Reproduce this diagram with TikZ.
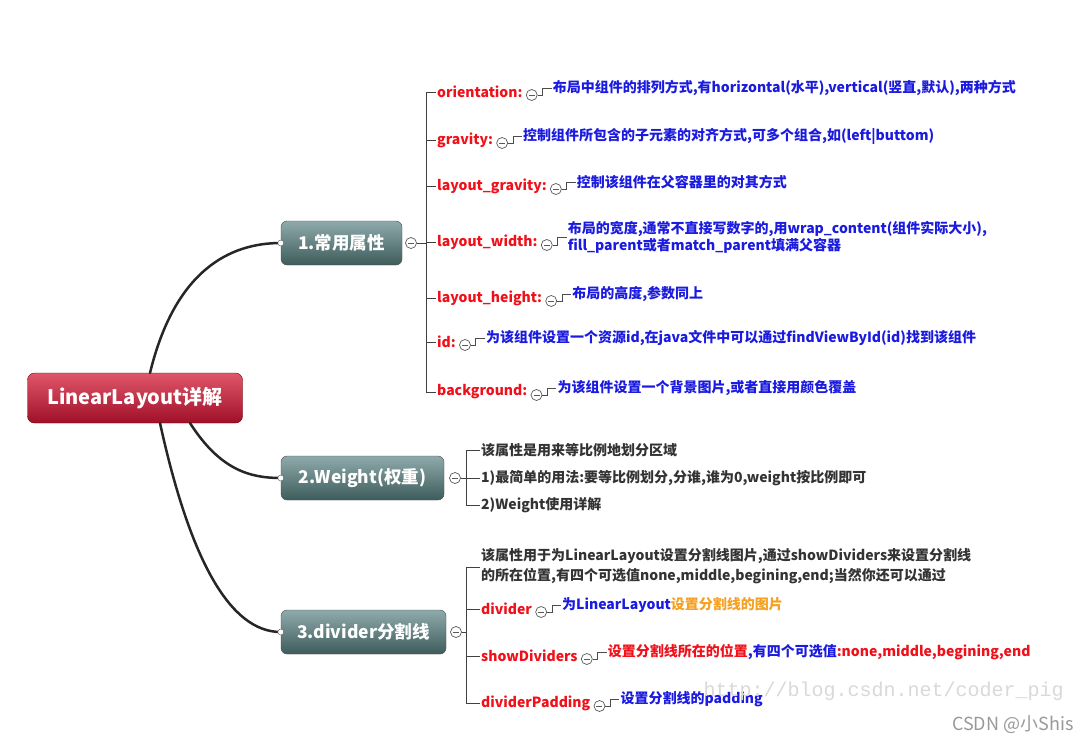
\documentclass[tikz,border=0pt]{standalone}
\usepackage{fontspec}
\setmainfont{Noto Sans CJK SC}
\newfontfamily\wmfont{Liberation Mono}
\newfontfamily\csdnfont{Noto Sans CJK SC}
\usetikzlibrary{positioning}
\definecolor{lbl}{HTML}{F0101A}
\definecolor{dsc}{HTML}{1A1AE0}
\definecolor{org}{HTML}{F5A020}
\definecolor{tk}{HTML}{333333}
\definecolor{brtop}{HTML}{8FAAAA}
\definecolor{brbot}{HTML}{3E5C5C}
\definecolor{rttop}{HTML}{E0566A}
\definecolor{rtbot}{HTML}{A01028}
\tikzset{
  rootbox/.style={draw=red!40!black, rounded corners=7pt, top color=rttop, bottom color=rtbot, text=white, font=\bfseries\fontsize{20}{22}\selectfont, minimum width=215pt, minimum height=50pt},
  brbox/.style={draw=gray!60!black, rounded corners=6pt, top color=brtop, bottom color=brbot, text=white, font=\bfseries\fontsize{17.5}{20}\selectfont, minimum height=44pt, inner xsep=4pt},
  lab/.style={anchor=west, text=lbl, font=\bfseries\fontsize{14}{16}\selectfont, inner sep=1pt},
  desc/.style={anchor=west, text=dsc, font=\bfseries\fontsize{14}{17}\selectfont, inner sep=1pt, align=left},
  plain/.style={anchor=west, text=tk, font=\bfseries\fontsize{14}{20}\selectfont, inner sep=1pt, align=left},
  tog/.style={circle, draw=gray!70!black, fill=white, minimum size=11pt, inner sep=0pt, line width=0.7pt, path picture={\draw[gray!70!black,line width=0.8pt] ([xshift=-3pt]path picture bounding box.center)--([xshift=3pt]path picture bounding box.center);}},
  dot/.style={circle, draw=gray!70!black, fill=white, minimum size=6pt, inner sep=0pt},
  br/.style={draw=gray!50!black, line width=1pt},
  sl/.style={draw=black!70, line width=0.8pt},
  curve/.style={draw=black!85, line width=2.5pt, line cap=round}
}
\newcommand\mystep[4]{% label node, name, desc, text colour
  \node[tog] (#2t) at ([xshift=8pt,yshift=-3pt]#1.east) {};
  \node[desc, text=#4] (#2d) at ([xshift=14pt,yshift=7pt]#2t.east) {#3};
  \draw[sl] (#2t.east) -- ++(5,0) |- (#2d.west);
}
\newcommand\myattr[4]{% name, y, label, desc
  \node[lab] (#1) at (436,#2) {#3};
  \mystep{#1}{#1}{#4}{dsc}
  \draw[br] (426,#2) -- (#1.west);
}
\begin{document}
\begin{tikzpicture}[x=1pt,y=-1pt]
\useasboundingbox (0,0) rectangle (1091,744);
\fill[white] (0,0) rectangle (1091,744);
% root and branches
\node[rootbox] (root) at (135,398) {LinearLayout详解};
\node[brbox, minimum width=121pt] (b1) at (341.5,243) {1.常用属性};
\node[brbox, minimum width=163pt] (b2) at (362.5,478) {2.Weight(权重)};
\node[brbox, minimum width=165pt] (b3) at (363.5,632) {3.divider分割线};
\draw[curve] (150,373) .. controls (175,270) and (230,243) .. (b1.west);
\draw[curve] (190,423) .. controls (220,470) and (250,478) .. (b2.west);
\draw[curve] (160,423) .. controls (190,560) and (230,632) .. (b3.west);
\node[dot] (d1) at (b1.west) {};
\node[dot] (d2) at (b2.west) {};
\node[dot] (d3) at (b3.west) {};
\node[tog] (t1) at (411,243) {};
\node[tog] (t2) at (455,478) {};
\node[tog] (t3) at (456,632) {};
% branch 1
\draw[br] (t1.east) -- (426,243);
\draw[br] (426,92) -- (426,392);
\myattr{a1}{92}{orientation:}{布局中组件的排列方式,有horizontal(水平),vertical(竖直,默认),两种方式}
\myattr{a2}{140}{gravity:}{控制组件所包含的子元素的对齐方式,可多个组合,如(left|buttom)}
\myattr{a3}{186}{layout\_gravity:}{控制该组件在父容器里的对其方式}
\node[lab] (a4) at (436,242) {layout\_width:};
\node[tog] (a4t) at ([xshift=8pt,yshift=-3pt]a4.east) {};
\node[desc] (a4d) at ([xshift=14pt,yshift=8pt]a4t.east) {布局的宽度,通常不直接写数字的,用wrap\_content(组件实际大小),\\fill\_parent或者match\_parent填满父容器};
\draw[sl] (a4t.east) -- ++(5,0) |- (a4d.west);
\draw[br] (426,242) -- (a4.west);
\myattr{a5}{298}{layout\_height:}{布局的高度,参数同上}
\myattr{a6}{342}{id:}{为该组件设置一个资源id,在java文件中可以通过findViewById(id)找到该组件}
\myattr{a7}{392}{background:}{为该组件设置一个背景图片,或者直接用颜色覆盖}
% branch 2
\draw[br] (t2.east) -- (466,478);
\draw[br] (466,450) -- (466,505);
\node[plain] (w1) at (480,450) {该属性是用来等比例地划分区域};
\node[plain] (w2) at (480,478) {1)最简单的用法:要等比例划分,分谁,谁为0,weight按比例即可};
\node[plain] (w3) at (480,505) {2)Weight使用详解};
\draw[br] (466,450) -- (w1.west);
\draw[br] (466,478) -- (w2.west);
\draw[br] (466,505) -- (w3.west);
% branch 3
\draw[br] (t3.east) -- (466,632);
\draw[br] (466,567) -- (466,703);
\node[plain] (v0) at (480,566) {该属性用于为LinearLayout设置分割线图片,通过showDividers来设置分割线\\的所在位置,有四个可选值none,middle,begining,end;当然你还可以通过};
\draw[br] (466,567) -- (v0.west |- 0,567);
\node[lab] (v1) at (480,609) {divider};
\mystep{v1}{v1}{为LinearLayout\textcolor{org}{设置分割线的图片}}{dsc}
\draw[br] (466,609) -- (v1.west);
\node[lab] (v2) at (480,656) {showDividers};
\mystep{v2}{v2}{设置分割线所在的位置\textcolor{dsc}{,有四个可选值}:none,middle,begining,end}{lbl}
\draw[br] (466,656) -- (v2.west);
\node[lab] (v3) at (480,703) {dividerPadding};
\mystep{v3}{v3}{设置分割线的padding}{dsc}
\draw[br] (466,703) -- (v3.west);
% watermarks
\node[anchor=west, text=gray!30, font=\wmfont\fontsize{20}{22}\selectfont] (wm) at (700,691) {http://blog.csdn.net/coder\_pig};
\node[anchor=east, text=gray!80, font=\csdnfont\fontsize{18}{20}\selectfont] (cs) at (1077,725) {CSDN @小Shis};
\end{tikzpicture}
\end{document}
